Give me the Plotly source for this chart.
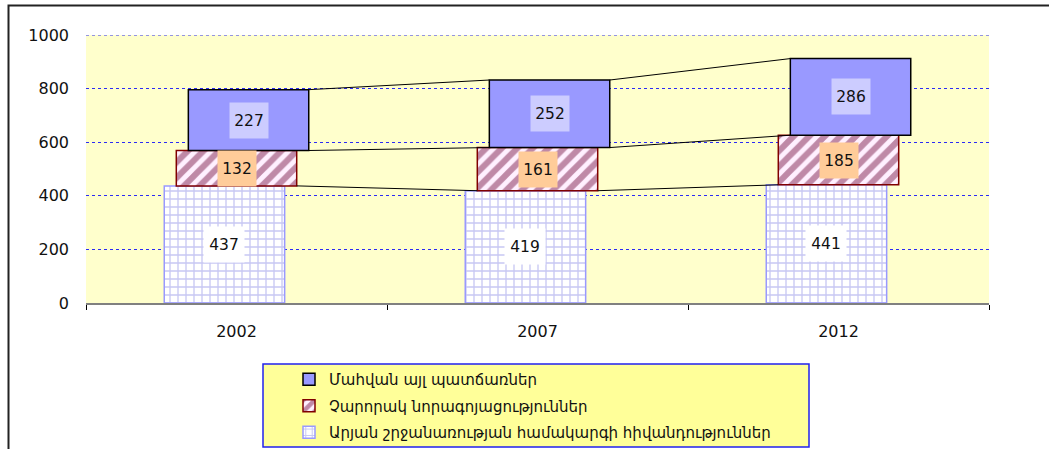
import numpy as np
import plotly.graph_objects as go

# ---- data ----
categories = ["2002", "2007", "2012"]
series_names = [
    "Արյան շրջանառության համակարգի հիվանդություններ",
    "Չարորակ նորագոյացություններ",
    "Մահվան այլ պատճառներ",
]
circulatory = [437, 419, 441]
neoplasms = [132, 161, 185]
other_causes = [227, 252, 286]
y_ticks = [0, 200, 400, 600, 800, 1000]

# ---- layout constants ----
W, H = 1049, 449
L, R, T, B = 86, 60, 35, 146
PW, PH = W - L - R, H - T - B
BAR_W = 0.40
SHIFT = 0.04  # per-series horizontal shift (pseudo depth)
FONT = "DejaVu Sans"

def px_x(p):
    return (p - L) / PW

def px_y(p):
    return (H - B - p) / PH

series = [np.array(circulatory), np.array(neoplasms), np.array(other_causes)]
bases = [np.zeros(3), series[0], series[0] + series[1]]
tops = [bases[i] + series[i] for i in range(3)]
xs = np.arange(len(categories))
shifts = [-SHIFT, 0.0, SHIFT]

styles = [
    dict(color="#FFFFFF", line=dict(color="#9999FF", width=1.5),
         pattern=dict(shape="+", fgcolor="#8F8FE6", bgcolor="#FFFFFF", size=8, solidity=0.3)),
    dict(color="#FFF0FF", line=dict(color="#800000", width=1.5),
         pattern=dict(shape="/", fgcolor="#7F2250", bgcolor="#FFF0FF", size=11, solidity=0.55)),
    dict(color="#9999FF", line=dict(color="#000000", width=1.5)),
]
label_bg = ["#FFFFFF", "#FFCC99", "#CCCCFF"]
label_w = [38, 36, 36]

fig = go.Figure()

# series lines (connect segment tops between categories)
lx, ly = [], []
for k in range(3):
    ref = min(k + 1, 2)
    for i in range(len(xs) - 1):
        lx += [xs[i] + shifts[ref] + BAR_W / 2, xs[i + 1] + shifts[ref] - BAR_W / 2, None]
        ly += [tops[k][i], tops[k][i + 1], None]
fig.add_trace(go.Scatter(x=lx, y=ly, mode="lines", line=dict(color="#000000", width=1),
                         showlegend=False, hoverinfo="skip"))

for k in range(3):
    fig.add_trace(go.Bar(
        x=xs, y=series[k], base=bases[k], name=series_names[k],
        width=BAR_W, offset=-BAR_W / 2 + shifts[k],
        marker=styles[k], legendgroup="g%d" % k, legendrank=10 - k,
    ))

annotations = []
for k in range(3):
    for i in range(len(xs)):
        annotations.append(dict(
            x=xs[i] + shifts[k], y=bases[k][i] + series[k][i] / 2,
            xref="x", yref="y", text=str(int(series[k][i])), showarrow=False,
            font=dict(family=FONT, size=15.5, color="#111111"),
            bgcolor=label_bg[k], width=label_w[k], height=33,
        ))

shapes = [
    # legend box
    dict(type="rect", xref="paper", yref="paper",
         x0=px_x(263), x1=px_x(809), y0=px_y(447), y1=px_y(364),
         fillcolor="#FFFF99", line=dict(color="#2222EE", width=1.5), layer="above"),
    # outer chart frame (partially outside the view)
    dict(type="rect", xref="paper", yref="paper",
         x0=px_x(8.5), x1=px_x(1070), y0=px_y(480), y1=px_y(5.5),
         line=dict(color="#222222", width=2), layer="above"),
    # top gridline at 1000
    dict(type="line", xref="paper", yref="y", x0=0, x1=1, y0=1000, y1=1000,
         line=dict(color="#2B2BF5", width=1, dash="dot"), layer="below"),
]

fig.update_layout(
    width=W, height=H,
    margin=dict(l=L, r=R, t=T, b=B, autoexpand=False),
    paper_bgcolor="#FFFFFF",
    plot_bgcolor="#FFFFCC",
    barmode="overlay",
    font=dict(family=FONT, size=15, color="#111111"),
    showlegend=True,
    legend=dict(
        x=px_x(289), y=px_y(363), xanchor="left", yanchor="top",
        bgcolor="rgba(0,0,0,0)", borderwidth=0, tracegroupgap=4,
        traceorder="grouped", font=dict(family=FONT, size=15, color="#111111"),
    ),
    xaxis=dict(
        range=[-0.5, len(xs) - 0.5],
        tickmode="array", tickvals=xs, ticktext=categories,
        ticks="", showgrid=False, zeroline=False,
        showline=True, linecolor="#808080", linewidth=2,
        tickfont=dict(family=FONT, size=16, color="#111111"),
        ticklabelstandoff=13,
        minor=dict(tickmode="array", tickvals=list(np.arange(-0.5, len(xs), 1.0)),
                   ticks="outside", ticklen=5, tickcolor="#000000", tickwidth=1, showgrid=False),
    ),
    yaxis=dict(
        range=[0, 1000], tickmode="array", tickvals=y_ticks,
        showgrid=True, gridcolor="#2B2BF5", griddash="dot", gridwidth=1,
        zeroline=False, showline=False, ticks="",
        tickfont=dict(family=FONT, size=16, color="#111111"),
        ticklabelstandoff=16,
    ),
    annotations=annotations,
    shapes=shapes,
)

fig.write_html("out.html", config={"displayModeBar": False},
               post_script="document.body.style.margin='0';")
